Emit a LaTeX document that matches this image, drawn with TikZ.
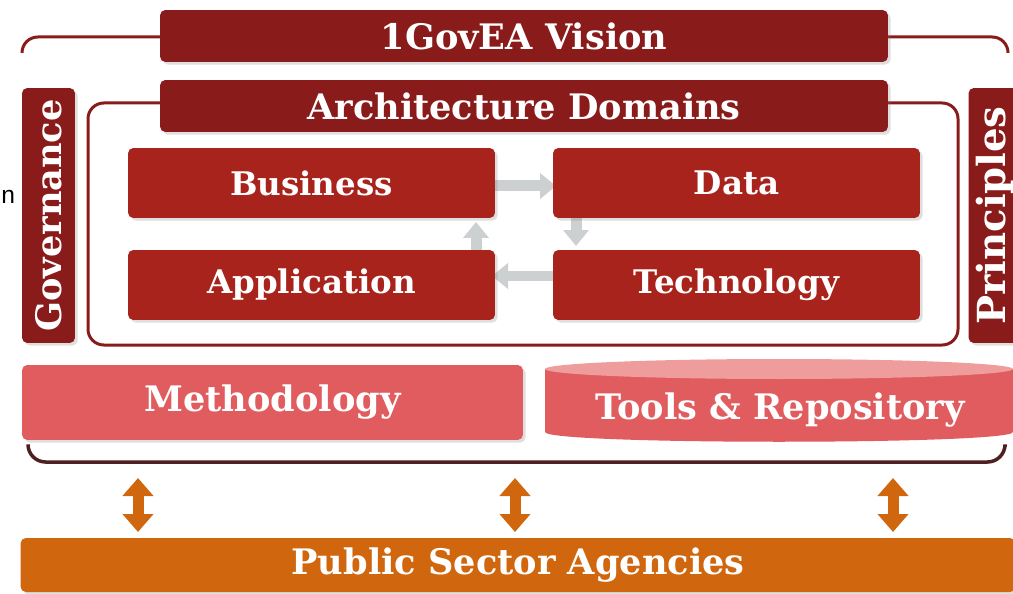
\documentclass[tikz,border=0pt]{standalone}
\usepackage{fontspec}
\setmainfont{DejaVu Serif}
\newfontfamily\sansfam{Liberation Sans}
\usetikzlibrary{arrows.meta,shadows}
\definecolor{vred}{HTML}{8A1B1B}
\definecolor{dred}{HTML}{A8231B}
\definecolor{mred}{HTML}{E05C5E}
\definecolor{tred}{HTML}{EE9C9C}
\definecolor{ored}{HTML}{D0670F}
\definecolor{bline}{HTML}{4E2020}
\definecolor{agrey}{HTML}{CDD0D0}
\begin{document}
\begin{tikzpicture}[x=0.02cm,y=-0.02cm,
  boxbase/.style={rounded corners=3pt, text=white, inner sep=0pt,
    drop shadow={shadow xshift=1.5pt, shadow yshift=-1.5pt, opacity=0.25}},
  topbox/.style={boxbase, fill=vred, minimum width=14.56cm, minimum height=1.04cm,
    font=\bfseries\fontsize{20}{24}\selectfont},
  sidebox/.style={boxbase, fill=vred, rotate=90, minimum width=5.1cm, minimum height=1.06cm,
    font=\bfseries\fontsize{20}{24}\selectfont},
  dombox/.style={boxbase, fill=dred, minimum width=7.34cm, minimum height=1.4cm,
    font=\bfseries\fontsize{18.5}{22}\selectfont},
  framel/.style={draw=vred, line width=0.06cm, rounded corners=7pt},
  garrow/.style={draw=agrey, line width=0.22cm, -{Triangle[length=0.32cm,width=0.5cm]}},
  oarrow/.style={draw=ored, line width=0.22cm, {Triangle[length=0.36cm,width=0.6cm]}-{Triangle[length=0.36cm,width=0.6cm]}},
  lbl/.style={text=white, font=\bfseries\fontsize{20}{24}\selectfont}
]
\useasboundingbox (0,0) rectangle (1013,594);
\clip (0,0) rectangle (1013,594);

% stray text fragment
\node[font=\sansfam\fontsize{14}{17}\selectfont, anchor=west, inner sep=0pt] (frag) at (1,197) {n};

% outer top bracket
\coordinate (otl) at (22,53);
\coordinate (otr) at (1008,53);
\draw[framel, rounded corners=9pt] (otl) -- (22,37) -- (170,37);
\draw[framel, rounded corners=9pt] (880,37) -- (1008,37) -- (otr);

% inner frame
\draw[framel, rounded corners=9pt] (88,103) rectangle (958,345);

% grey cycle arrows (behind domain boxes)
\coordinate (ga1) at (490,186); \coordinate (gb1) at (556,186);
\coordinate (ga2) at (576,205); \coordinate (gb2) at (576,246);
\coordinate (ga3) at (558,276); \coordinate (gb3) at (492,276);
\coordinate (ga4) at (476,263); \coordinate (gb4) at (476,222);
\draw[garrow] (ga1) -- (gb1);
\draw[garrow] (ga2) -- (gb2);
\draw[garrow] (ga3) -- (gb3);
\draw[garrow] (ga4) -- (gb4);

% top boxes
\node[topbox] (vision) at (524,36) {1GovEA Vision};
\node[topbox] (arch) at (524,106) {Architecture Domains};

% side boxes
\node[sidebox] (gov) at (48.5,215.5) {Governance};
\node[sidebox, font=\bfseries\fontsize{22}{26}\selectfont] (prin) at (995,215.5) {Principles};

% domain boxes
\node[dombox] (bus) at (311.5,183) {Business};
\node[dombox] (data) at (736.5,183) {Data};
\node[dombox] (app) at (311.5,285) {Application};
\node[dombox] (tech) at (736.5,285) {Technology};

% methodology
\node[boxbase, fill=mred, minimum width=10.02cm, minimum height=1.5cm,
  font=\bfseries\fontsize{20}{24}\selectfont] (meth) at (272.5,402.5) {Methodology};

% tools & repository cylinder
\fill[mred] (545,369) -- (545,432) .. controls (545,445) and (1013,445) .. (1013,432) -- (1013,369) -- cycle;
\fill[tred] (779,369) ellipse [x radius=234, y radius=10];
\node[lbl] (tools) at (780,410) {Tools \& Repository};

% bottom bracket
\draw[draw=bline, line width=0.07cm, rounded corners=10pt] (28,447) -- (28,462) -- (1005,462) -- (1005,447);

% public sector agencies
\node[boxbase, fill=ored, minimum width=19.9cm, minimum height=1.08cm,
  font=\bfseries\fontsize{20}{24}\selectfont] (psa) at (518,565) {Public Sector Agencies};

% orange double arrows
\coordinate (oa1) at (138,478); \coordinate (ob1) at (138,532);
\coordinate (oa2) at (515,478); \coordinate (ob2) at (515,532);
\coordinate (oa3) at (893,478); \coordinate (ob3) at (893,532);
\draw[oarrow] (oa1) -- (ob1);
\draw[oarrow] (oa2) -- (ob2);
\draw[oarrow] (oa3) -- (ob3);
\end{tikzpicture}
\end{document}
